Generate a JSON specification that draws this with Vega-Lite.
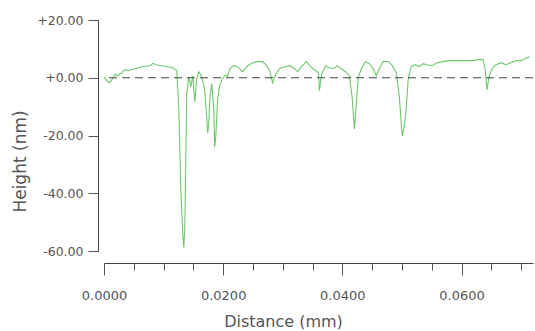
{
  "$schema": "https://vega.github.io/schema/vega-lite/v6.json",
  "autosize": "none",
  "width": 429,
  "height": 231,
  "padding": {"left": 104, "top": 20, "right": 2, "bottom": 80},
  "background": "white",
  "config": {"view": {"stroke": null}, "font": "DejaVu Sans"},
  "datasets": {
    "profile": [
      {"d": 0.0, "h": 0.35}, {"d": 0.0005, "h": -1.04}, {"d": 0.001, "h": -1.74}, {"d": 0.00151, "h": 0.0},
      {"d": 0.00185, "h": 1.2}, {"d": 0.00218, "h": 0.7}, {"d": 0.00301, "h": 1.74}, {"d": 0.0035, "h": 2.9}, {"d": 0.00402, "h": 2.44}, {"d": 0.00519, "h": 3.13},
      {"d": 0.00636, "h": 3.83}, {"d": 0.0077, "h": 4.18}, {"d": 0.0082, "h": 5.0}, {"d": 0.0087, "h": 4.52}, {"d": 0.00971, "h": 4.18},
      {"d": 0.01071, "h": 3.83}, {"d": 0.01155, "h": 3.48}, {"d": 0.01222, "h": 2.44}, {"d": 0.01256, "h": -10.79},
      {"d": 0.01289, "h": -38.63}, {"d": 0.01322, "h": -54.29}, {"d": 0.01339, "h": -58.81}, {"d": 0.01356, "h": -51.85},
      {"d": 0.01373, "h": -28.19}, {"d": 0.01389, "h": -5.57}, {"d": 0.01423, "h": 0.35}, {"d": 0.01456, "h": -3.13},
      {"d": 0.0149, "h": 0.7}, {"d": 0.01523, "h": -8.35}, {"d": 0.01557, "h": -0.35}, {"d": 0.0159, "h": 2.09},
      {"d": 0.01624, "h": 1.04}, {"d": 0.01657, "h": -1.04}, {"d": 0.01691, "h": -4.52}, {"d": 0.01724, "h": -13.57},
      {"d": 0.01741, "h": -19.14}, {"d": 0.01758, "h": -16.01}, {"d": 0.01775, "h": -7.31}, {"d": 0.01808, "h": -2.09},
      {"d": 0.01842, "h": -10.79}, {"d": 0.01858, "h": -24.01}, {"d": 0.01875, "h": -20.53}, {"d": 0.01908, "h": -7.31},
      {"d": 0.01942, "h": -2.44}, {"d": 0.01992, "h": -0.35}, {"d": 0.02042, "h": 1.04}, {"d": 0.02075, "h": 0.3}, {"d": 0.02109, "h": 3.13},
      {"d": 0.02176, "h": 4.18}, {"d": 0.02243, "h": 3.83}, {"d": 0.02327, "h": 2.09}, {"d": 0.02411, "h": 4.18},
      {"d": 0.02495, "h": 5.22}, {"d": 0.02578, "h": 5.57}, {"d": 0.02662, "h": 5.57}, {"d": 0.02729, "h": 4.18},
      {"d": 0.02779, "h": 2.44}, {"d": 0.02829, "h": -1.74}, {"d": 0.02879, "h": 1.04}, {"d": 0.02946, "h": 3.13},
      {"d": 0.0303, "h": 3.83}, {"d": 0.03114, "h": 4.18}, {"d": 0.03197, "h": 3.13}, {"d": 0.03248, "h": 2.09},
      {"d": 0.03315, "h": 3.83}, {"d": 0.03398, "h": 5.57}, {"d": 0.03465, "h": 3.83}, {"d": 0.03532, "h": 2.78},
      {"d": 0.03599, "h": 1.74}, {"d": 0.03616, "h": -4.52}, {"d": 0.0365, "h": 1.04}, {"d": 0.03717, "h": 4.18},
      {"d": 0.03783, "h": 3.48}, {"d": 0.0385, "h": 3.13}, {"d": 0.03917, "h": 4.18}, {"d": 0.03984, "h": 3.13},
      {"d": 0.04051, "h": 2.09}, {"d": 0.04118, "h": 0.7}, {"d": 0.04168, "h": -7.31}, {"d": 0.04201, "h": -17.75},
      {"d": 0.04235, "h": -9.05}, {"d": 0.04269, "h": 0.35}, {"d": 0.04319, "h": 3.13}, {"d": 0.04386, "h": 5.57},
      {"d": 0.04453, "h": 4.87}, {"d": 0.0452, "h": 3.13}, {"d": 0.0457, "h": 0.7}, {"d": 0.0462, "h": 3.13},
      {"d": 0.04687, "h": 5.57}, {"d": 0.04771, "h": 5.57}, {"d": 0.04838, "h": 4.18}, {"d": 0.04905, "h": 1.74},
      {"d": 0.04955, "h": -6.26}, {"d": 0.04989, "h": -16.01}, {"d": 0.05005, "h": -20.18}, {"d": 0.05039, "h": -17.05},
      {"d": 0.05072, "h": -10.79}, {"d": 0.05106, "h": -0.35}, {"d": 0.05156, "h": 3.83}, {"d": 0.05223, "h": 4.52},
      {"d": 0.0529, "h": 3.83}, {"d": 0.05357, "h": 4.87}, {"d": 0.05424, "h": 4.52}, {"d": 0.05507, "h": 4.18},
      {"d": 0.05591, "h": 5.22}, {"d": 0.05692, "h": 5.57}, {"d": 0.05792, "h": 5.92}, {"d": 0.05892, "h": 5.92},
      {"d": 0.05993, "h": 5.92}, {"d": 0.06093, "h": 5.92}, {"d": 0.06194, "h": 5.92}, {"d": 0.06294, "h": 6.26},
      {"d": 0.06361, "h": 6.26}, {"d": 0.06395, "h": 3.13}, {"d": 0.06428, "h": -4.18}, {"d": 0.06462, "h": 0.35},
      {"d": 0.06512, "h": 3.13}, {"d": 0.06579, "h": 4.52}, {"d": 0.06663, "h": 5.22}, {"d": 0.06747, "h": 4.52},
      {"d": 0.0683, "h": 5.22}, {"d": 0.06914, "h": 5.92}, {"d": 0.06998, "h": 5.92}, {"d": 0.07064, "h": 6.61},
      {"d": 0.07148, "h": 7.31}
    ],
    "zero": [{"h": 0}]
  },
  "layer": [
    {
      "data": {"name": "profile"},
      "mark": {"type": "line", "color": "#70c670", "strokeWidth": 1.1, "clip": true},
      "encoding": {
        "x": {
          "field": "d", "type": "quantitative",
          "scale": {"domain": [0, 0.072], "nice": false, "zero": false},
          "axis": {
            "title": "Distance (mm)",
            "values": [0, 0.005, 0.01, 0.015, 0.02, 0.025, 0.03, 0.035, 0.04, 0.045, 0.05, 0.055, 0.06, 0.065, 0.07],
            "labelExpr": "abs(datum.value*100 - round(datum.value*50)*2) < 0.0001 ? format(datum.value, '.4f') : ''",
            "offset": 12,
            "grid": false,
            "domainColor": "#444444",
            "tickColor": "#555555",
            "tickSize": {"condition": {"test": "abs(datum.value*100 - round(datum.value*50)*2) < 0.0001", "value": 12}, "value": 7},
            "labelFontSize": 13,
            "labelColor": "#555555",
            "labelPadding": 14,
            "labelFlush": false,
            "titleFontSize": 16,
            "titleFontWeight": "normal",
            "titleColor": "#555555",
            "titleX": 179,
            "titleY": 63,
            "titleBaseline": "alphabetic",
            "titleAlign": "center"
          }
        },
        "y": {
          "field": "h", "type": "quantitative",
          "scale": {"domain": [-60, 20], "nice": false},
          "axis": {
            "title": "Height (nm)",
            "values": [-60, -55, -50, -45, -40, -35, -30, -25, -20, -15, -10, -5, 0, 5, 10, 15, 20],
            "labelExpr": "datum.value % 20 == 0 ? (datum.value < 0 ? '-' + format(abs(datum.value), '.2f') : '+' + format(datum.value, '.2f')) : ''",
            "offset": 6,
            "grid": false,
            "domainColor": "#444444",
            "tickColor": "#555555",
            "tickSize": {"condition": {"test": "datum.value % 20 == 0", "value": 10}, "value": 5},
            "labelFontSize": 12.5,
            "labelColor": "#555555",
            "labelPadding": 5,
            "titleFontSize": 17,
            "titleFontWeight": "normal",
            "titleColor": "#555555",
            "titleX": -73,
            "titleY": 141,
            "titleAngle": -90,
            "titleBaseline": "alphabetic",
            "titleAlign": "center"
          }
        }
      }
    },
    {
      "data": {"name": "zero"},
      "mark": {"type": "rule", "color": "#444444", "strokeWidth": 1.2, "strokeDash": [8, 5]},
      "encoding": {"y": {"field": "h", "type": "quantitative"}}
    }
  ]
}
